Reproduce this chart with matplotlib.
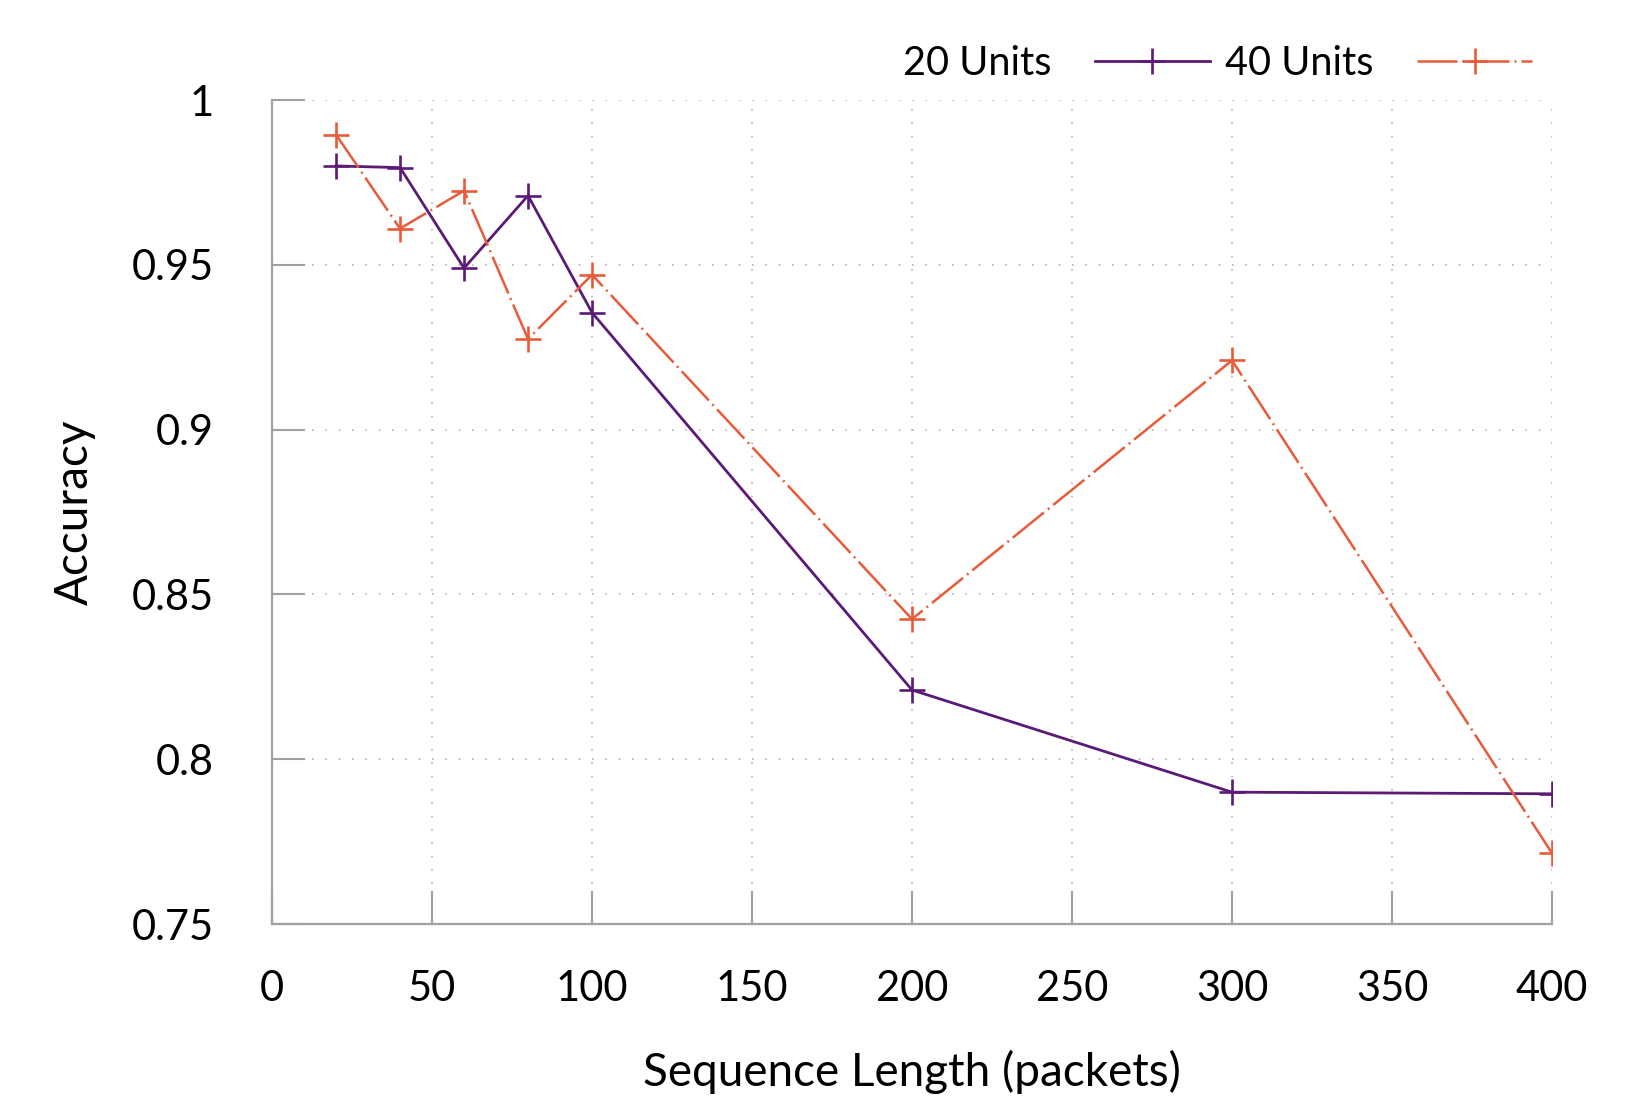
import numpy as np
import matplotlib.pyplot as plt
from matplotlib.ticker import FormatStrFormatter

plt.rcParams['font.family'] = ['Lato', 'DejaVu Sans']

# Data
seq_len = [20, 40, 60, 80, 100, 200, 300, 400]
acc_20 = [0.980, 0.9795, 0.949, 0.971, 0.9355, 0.821, 0.790, 0.7895]
acc_40 = [0.9895, 0.961, 0.9725, 0.9275, 0.947, 0.8425, 0.921, 0.7715]
x_ticks = [0, 50, 100, 150, 200, 250, 300, 350, 400]
y_ticks = [0.75, 0.8, 0.85, 0.9, 0.95, 1.0]

purple = '#5a1a76'
orange = '#e95a38'
gray = '#a0a0a0'

fig = plt.figure(figsize=(16.33, 10.97), dpi=100)
ax = fig.add_axes([0.1666, 0.1577, 0.9504 - 0.1666, 0.9088 - 0.1577])

ax.plot(seq_len, acc_20, color=purple, lw=2.0, marker='+', ms=19, mew=1.9,
        label='20 Units')
ax.plot(seq_len, acc_40, color=orange, lw=1.8, marker='+', ms=19, mew=1.9,
        linestyle=(0, (16, 2, 0.8, 2)), label='40 Units')

ax.set_xlim(0, 400)
ax.set_ylim(0.75, 1.0)
ax.set_xticks(x_ticks)
ax.set_yticks(y_ticks)
ax.yaxis.set_major_formatter(FormatStrFormatter('%g'))

# gnuplot look: gray border on left/bottom, inward ticks, dotted grid
for s in ['top', 'right']:
    ax.spines[s].set_visible(False)
for s in ['left', 'bottom']:
    ax.spines[s].set_color(gray)
    ax.spines[s].set_linewidth(1.6)
ax.tick_params(axis='both', direction='in', length=24, width=1.5, color=gray,
               labelsize=30)
ax.tick_params(axis='x', pad=33)
ax.tick_params(axis='y', pad=42)
ax.grid(True, color='#b4b4b4', linestyle=(0, (1, 7)), linewidth=1.2)
ax.set_axisbelow(True)

ax.set_xlabel('Sequence Length (packets)', fontsize=33, labelpad=30)
ax.set_ylabel('Accuracy', fontsize=33, labelpad=26)

ax.legend(loc='center right', bbox_to_anchor=(0.96, 0.942),
          bbox_transform=fig.transFigure, ncol=2, markerfirst=False,
          frameon=False, fontsize=28.5, handlelength=2.9, handletextpad=1.1,
          columnspacing=0.4)

fig.savefig('out.png', dpi=100)
